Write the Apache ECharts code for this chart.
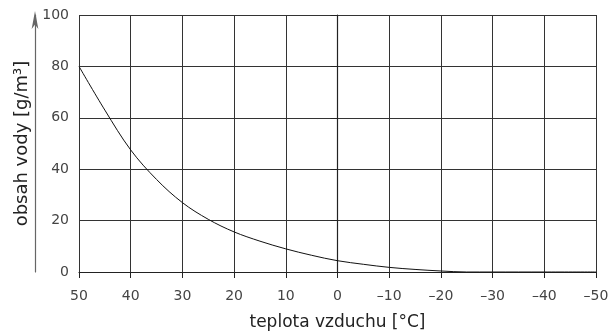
<!DOCTYPE html>
<html><head><meta charset="utf-8">
<script src="https://cdn.jsdelivr.net/npm/echarts@6/dist/echarts.min.js"></script>
<style>html,body{margin:0;padding:0;background:#fff}#c{width:611px;height:333px}</style>
</head><body><div id="c"></div>
<script>
const temps = [50,45,40,35,30,25,20,15,10,5,0,-5,-10,-15,-20,-25,-30,-40,-50];
const waterContent = [80,63,47.5,36,27,20.5,15.6,12,9,6.5,4.4,3,1.8,1,0.4,0,0,0,0];
const xTitle = 'teplota vzduchu [°C]';
const yTitle = 'obsah vody [g/m³]';

const chart = echarts.init(document.getElementById('c'));
const font = 'DejaVu Sans';
const points = temps.map((t, i) => [t, waterContent[i]]);
chart.setOption({
  animation: false,
  grid: {left: 79, right: 15, top: 15, bottom: 61, outerBoundsMode: 'none', containLabel: false},
  xAxis: {
    type: 'value', min: -50, max: 50, interval: 10, inverse: true,
    name: xTitle, nameLocation: 'middle', nameGap: 42,
    nameTextStyle: {fontFamily: font, fontSize: 17, color: '#222'},
    axisLine: {show: true, onZero: false, lineStyle: {color: '#222', width: 1.2}},
    axisTick: {show: true, length: 6, lineStyle: {color: '#222'}},
    axisLabel: {fontFamily: font, fontSize: 14, color: '#444', margin: 17,
      formatter: v => v < 0 ? '–' + (-v) : String(v)},
    splitLine: {show: true, lineStyle: {color: '#333', width: 1}}
  },
  yAxis: [{
    type: 'value', min: 0, max: 100, interval: 20,
    axisLine: {show: true, lineStyle: {color: '#222', width: 1.2}},
    axisTick: {show: true, length: 7, lineStyle: {color: '#222'}},
    axisLabel: {fontFamily: font, fontSize: 14, color: '#444', margin: 10},
    splitLine: {show: true, lineStyle: {color: '#333', width: 1}}
  }, {
    type: 'value', min: 0, max: 100, position: 'left', offset: 44,
    name: yTitle, nameLocation: 'middle', nameGap: 4, nameRotate: 90,
    nameTextStyle: {fontFamily: font, fontSize: 18, color: '#222'},
    axisLine: {show: true, symbol: ['none', 'arrow'], symbolSize: [5, 18], symbolOffset: [0, 4],
      lineStyle: {color: '#666', width: 1.2}},
    axisTick: {show: false}, axisLabel: {show: false}, splitLine: {show: false}
  }],
  series: [{
    type: 'line', smooth: 0.35, symbol: 'none',
    data: points,
    lineStyle: {color: '#111', width: 1}
  }]
});
</script></body></html>
